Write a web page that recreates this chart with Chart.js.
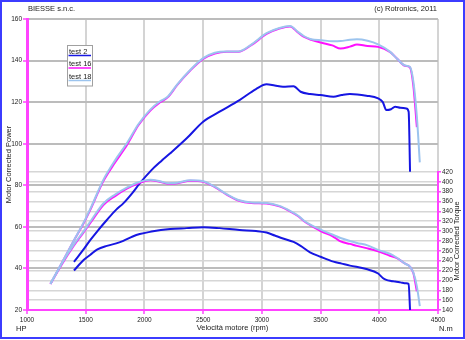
<!DOCTYPE html>
<html>
<head>
<meta charset="utf-8">
<script src="https://cdn.jsdelivr.net/npm/chart.js@4.4.0/dist/chart.umd.min.js"></script>
<style>
  html, body { margin: 0; padding: 0; background: #fff; }
  #wrap { width: 465px; height: 340px; position: relative; }
</style>
</head>
<body>
<div id="wrap"><canvas id="chart" width="465" height="340"></canvas></div>
<script>
// axis ticks
const rpmTicks = [1000, 1500, 2000, 2500, 3000, 3500, 4000, 4500];
const powerTicks = [20, 40, 60, 80, 100, 120, 140, 160];
const torqueTicks = [140, 160, 180, 200, 220, 240, 260, 280, 300, 320, 340, 360, 380, 400, 420];

// test 2
const rpm2 = [1400, 1480, 1540, 1600, 1680, 1760, 1820, 1900, 1960, 2060, 2140, 2220, 2360, 2500, 2640, 2810, 2950, 3040, 3110, 3180,
  3270, 3330, 3410, 3500, 3610, 3680, 3750, 3890, 3990, 4030, 4060, 4100, 4135, 4180, 4230, 4250, 4262];
const power2 = [43.2, 49, 53.7, 58, 63.3, 68.3, 71.3, 76.5, 80.9, 87.3, 91.5, 95.4, 102.6, 110.6, 115.4, 121, 126.3, 128.6, 128, 127.4,
  127.7, 125, 123.9, 123.4, 122.6, 123.4, 123.9, 123.1, 121.8, 120, 116.2, 116.6, 117.8, 117.3, 117, 115.4, 86.5];
const torque2 = [220, 241, 252, 263, 270, 275, 280, 289, 294, 299, 302, 304, 306, 308, 306, 302, 300, 297, 291, 285,
  278, 270, 257, 248, 238, 234, 230, 223, 214, 205, 201, 199, 198, 196, 194, 193, 140];

// test 16
const rpm16 = [1200, 1300, 1400, 1480, 1550, 1650, 1750, 1850, 1950, 2050, 2130, 2200, 2280, 2390, 2500, 2600, 2700, 2800, 2910, 3040,
  3150, 3240, 3310, 3360, 3420, 3510, 3600, 3670, 3750, 3810, 3900, 3990, 4090, 4150, 4220, 4260, 4290, 4320];
const power16 = [32.5, 43, 53.5, 61.5, 69.5, 82, 91, 99.3, 109, 116, 119.8, 122.4, 128.3, 135.2, 140.8, 143.4, 144.2, 144.2, 147.4, 152.8,
  155.4, 156.4, 153.4, 151.4, 150, 148.6, 147.3, 145.8, 146.7, 147.7, 147, 146.6, 144.2, 141, 137.5, 136.8, 128, 108];
const torque16 = [193, 234, 271, 297, 320, 353, 371, 386, 397, 403, 400, 396, 397, 402, 400, 389, 374, 362, 357, 356,
  350, 340, 330, 320, 311, 299, 290, 279, 274, 270, 265, 259, 250, 245, 234, 228, 215, 178];

// test 18
const rpm18 = [1200, 1300, 1400, 1480, 1550, 1650, 1750, 1850, 1950, 2050, 2130, 2200, 2280, 2390, 2500, 2600, 2700, 2800, 2910, 3040,
  3150, 3240, 3310, 3360, 3420, 3510, 3600, 3670, 3750, 3810, 3900, 3990, 4090, 4150, 4220, 4260, 4290, 4320, 4345];
const power18 = [32.5, 43, 53.6, 61.8, 70, 82.6, 92, 100.2, 109.5, 116.4, 120.3, 122.7, 128.6, 135.5, 141.2, 143.8, 144.4, 144.4, 147.7, 153.2,
  155.7, 156.6, 153.7, 151.7, 150.3, 149.8, 149.3, 149.4, 150, 150.2, 149.5, 147.8, 144.3, 141, 137.6, 137, 130, 113, 91];
const torque18 = [194, 236, 273, 299, 323, 356, 374, 388, 399, 404, 401, 397, 398, 403, 401, 390, 375, 363, 358, 357,
  351, 341, 331, 321, 312, 302, 293, 286, 280, 276, 271, 262, 254, 246, 234, 228, 216, 188, 148];

const BLUE = '#1616e2';
const MAGENTA = '#ff10ff';
const LIGHTBLUE = '#9cc4ee';
const PINK = '#ff44ff';
const FONT = '"Liberation Sans", Arial, sans-serif';

const pts = (xs, ys) => xs.map((x, i) => ({ x: x, y: ys[i] }));
const line = (label, data, color, axis, order) => ({
  label: label, data: data, yAxisID: axis, order: order,
  borderColor: color, borderWidth: 2, pointRadius: 0, fill: false,
  cubicInterpolationMode: 'monotone'
});
// plain numbers, no thousands separator
const plain = v => String(v);

// corner texts, torque axis line + title, legend box and outer frame
const decorations = {
  id: 'decorations',
  afterDraw(chart) {
    const { ctx, chartArea: a, scales } = chart;
    const yT = scales.yT;
    ctx.save();

    ctx.strokeStyle = PINK;
    ctx.lineWidth = 2;
    ctx.beginPath();
    ctx.moveTo(a.right, yT.getPixelForValue(torqueTicks[0]) + 1);
    ctx.lineTo(a.right, yT.getPixelForValue(torqueTicks[torqueTicks.length - 1]) - 1);
    ctx.stroke();

    ctx.fillStyle = '#222';
    ctx.font = '7.5px ' + FONT;
    ctx.textBaseline = 'middle';
    ctx.textAlign = 'left';
    ctx.fillText('BIESSE s.n.c.', a.left + 1, 9);
    ctx.fillText('HP', 16, 329);
    ctx.fillText('N.m', a.right + 1, 329);
    ctx.textAlign = 'right';
    ctx.fillText('(c) Rotronics, 2011', a.right - 1, 9);

    ctx.save();
    ctx.translate(457, yT.getPixelForValue((torqueTicks[0] + torqueTicks[torqueTicks.length - 1]) / 2));
    ctx.rotate(-Math.PI / 2);
    ctx.textAlign = 'center';
    ctx.fillText('Motor Corrected Torque', 0, 0);
    ctx.restore();

    // legend: label with a coloured line under it
    const lx = 67.5, ly = 45.5;
    ctx.fillStyle = '#fff';
    ctx.fillRect(lx, ly, 25, 40.5);
    ctx.strokeStyle = '#a0a0a0';
    ctx.lineWidth = 1;
    ctx.strokeRect(lx, ly, 25, 40.5);
    chart.data.datasets.slice(0, 3).forEach((ds, i) => {
      const ty = ly + 6 + i * 12.5;
      ctx.fillStyle = '#222';
      ctx.textAlign = 'left';
      ctx.fillText(ds.label, lx + 1.5, ty);
      ctx.strokeStyle = ds.borderColor;
      ctx.lineWidth = 1.5;
      ctx.beginPath();
      ctx.moveTo(lx + 1, ty + 4);
      ctx.lineTo(lx + 23.5, ty + 4);
      ctx.stroke();
    });

    ctx.strokeStyle = '#3c3cff';
    ctx.lineWidth = 2;
    ctx.strokeRect(1, 1, chart.width - 2, chart.height - 3);
    ctx.restore();
  }
};

new Chart(document.getElementById('chart'), {
  type: 'line',
  data: {
    datasets: [
      line('test 2', pts(rpm2, power2), BLUE, 'y', 3),
      line('test 16', pts(rpm16, power16), MAGENTA, 'y', 2),
      line('test 18', pts(rpm18, power18), LIGHTBLUE, 'y', 1),
      line('test 2', pts(rpm2, torque2), BLUE, 'yT', 3),
      line('test 16', pts(rpm16, torque16), MAGENTA, 'yT', 2),
      line('test 18', pts(rpm18, torque18), LIGHTBLUE, 'yT', 1)
    ]
  },
  options: {
    responsive: false,
    animation: false,
    events: [],
    layout: { padding: { top: 19, left: 0, right: 0, bottom: 0 } },
    plugins: { legend: { display: false }, tooltip: { enabled: false } },
    scales: {
      x: {
        type: 'linear', min: 1000, max: 4500,
        afterBuildTicks: s => { s.ticks = rpmTicks.map(v => ({ value: v })); },
        afterFit: s => { s.height = 30; },
        ticks: { color: '#222', font: { size: 6.5, family: FONT }, padding: 2, maxRotation: 0, autoSkip: false, callback: plain },
        grid: {
          color: c => c.tick && c.tick.value === 1000 ? 'rgba(0,0,0,0)' : '#d4d4d4',
          lineWidth: 2, tickColor: PINK, tickWidth: 1.5, tickLength: 4
        },
        border: { color: PINK, width: 2 },
        title: {
          display: true, text: 'Velocità motore (rpm)', color: '#222',
          font: { size: 7.5, family: FONT }, padding: { top: 0, bottom: 7.5 }
        }
      },
      y: {
        position: 'left', min: 20, max: 160,
        afterBuildTicks: s => { s.ticks = powerTicks.map(v => ({ value: v })); },
        afterFit: s => { s.width = 27; },
        ticks: { color: '#222', font: { size: 6.5, family: FONT }, padding: 1, autoSkip: false, callback: plain },
        grid: {
          color: c => c.tick && c.tick.value === 20 ? 'rgba(0,0,0,0)' : '#bcbcbc',
          lineWidth: 2, tickColor: PINK, tickWidth: 1.5, tickLength: 4
        },
        border: { color: PINK, width: 3 },
        title: {
          display: true, text: 'Motor Corrected Power', color: '#222',
          font: { size: 7.5, family: FONT }, padding: { top: 4, bottom: 0 }
        }
      },
      yT: {
        position: 'right', min: 140, max: 730,
        afterBuildTicks: s => { s.ticks = torqueTicks.map(v => ({ value: v })); },
        afterFit: s => { s.width = 27; },
        ticks: { color: '#222', font: { size: 6.5, family: FONT }, padding: 1, autoSkip: false, callback: plain },
        grid: {
          color: c => c.tick && c.tick.value === 140 ? 'rgba(0,0,0,0)' : '#d6d6d6',
          lineWidth: 1.5, tickColor: PINK, tickWidth: 1.5, tickLength: 3
        },
        border: { display: false }
      }
    }
  },
  plugins: [decorations]
});
</script>
</body>
</html>
